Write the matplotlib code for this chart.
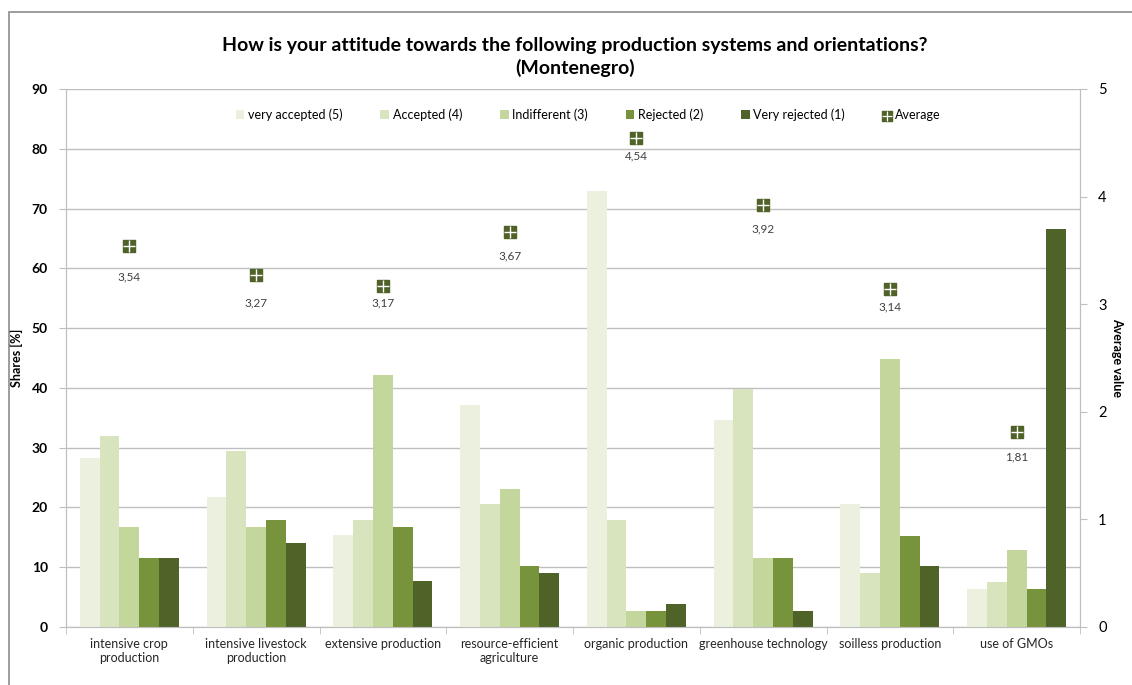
import numpy as np
import matplotlib.pyplot as plt
from matplotlib.patches import Rectangle

plt.rcParams['font.family'] = ['Lato', 'DejaVu Sans']

categories = ['intensive crop\nproduction', 'intensive livestock\nproduction', 'extensive production',
              'resource-efficient\nagriculture', 'organic production', 'greenhouse technology',
              'soilless production', 'use of GMOs']
series_names = ['very accepted (5)', 'Accepted (4)', 'Indifferent (3)', 'Rejected (2)', 'Very rejected (1)']
very_accepted = [28.2, 21.8, 15.4, 37.1, 73.0, 34.7, 20.6, 6.4]
accepted = [32.0, 29.4, 17.9, 20.6, 17.9, 39.8, 9.0, 7.6]
indifferent = [16.7, 16.7, 42.2, 23.1, 2.6, 11.5, 44.8, 12.8]
rejected = [11.5, 17.9, 16.7, 10.2, 2.6, 11.5, 15.3, 6.4]
very_rejected = [11.5, 14.0, 7.7, 9.0, 3.85, 2.6, 10.2, 66.5]
average = [3.54, 3.27, 3.17, 3.67, 4.54, 3.92, 3.14, 1.81]

# how far each average label sits below its marker (pixels)
label_drop = [31, 28, 17, 24, 17, 24, 18, 25]

colors = ['#EBF1DE', '#D7E4BD', '#C3D69B', '#77933C', '#4F6228']
grid_c = '#BFBFBF'

fig = plt.figure(figsize=(11.32, 6.85), dpi=100)
ax = fig.add_axes([66/1132, 1-627/685, 1014/1132, 538/685])
ax2 = ax.twinx()

x = np.arange(len(categories))
w = 0.156
all_series = [very_accepted, accepted, indifferent, rejected, very_rejected]
handles = []
for i, vals in enumerate(all_series):
    b = ax.bar(x + (i - 2) * w, vals, w, color=colors[i], label=series_names[i], zorder=3)
    handles.append(b)

ax.set_ylim(0, 90)
ax.set_xlim(-0.5, len(categories) - 0.5)
ax.set_yticks(range(0, 91, 10))
ax.yaxis.grid(True, color=grid_c, lw=1, zorder=0)
ax.set_axisbelow(True)
ax.set_xticks(x)
ax.set_xticklabels(categories, fontsize=9, color='#262626')
ax.tick_params(axis='x', length=0, pad=8)
ax.set_xticks(np.arange(-0.5, len(categories), 1), minor=True)
ax.tick_params(axis='x', which='minor', length=5, color=grid_c)
ax.tick_params(axis='y', length=5, color=grid_c, labelsize=10, pad=8)
for lab in ax.get_yticklabels():
    lab.set_fontweight('bold')
ax.set_ylabel('Shares [%]', fontsize=9, fontweight='bold', labelpad=6)
ax.spines['top'].set_visible(False)
ax2.spines['top'].set_visible(False)
for s in ['left', 'bottom', 'right']:
    ax.spines[s].set_color(grid_c)
    ax2.spines[s].set_color(grid_c)

ax2.set_ylim(0, 5)
ax2.set_yticks(range(0, 6))
ax2.tick_params(axis='y', length=5, color=grid_c, labelsize=10.5, pad=8)
ax2.scatter(x, average, marker='s', s=85, color='#4F6228', zorder=5)
ax2.scatter(x, average, marker='+', s=75, color='white', linewidths=1.0, zorder=6)
for xi, v, d in zip(x, average, label_drop):
    ax2.annotate(f'{v:.2f}'.replace('.', ','), (xi, v), xytext=(0, -d * 0.72), textcoords='offset points',
                 ha='center', va='center', fontsize=8.5, color='#404040')
ax2.set_ylabel('Average value', fontsize=9, fontweight='bold', rotation=-90, labelpad=12)

sq = ax2.scatter([], [], marker='s', s=50, color='#4F6228')
pl = ax2.scatter([], [], marker='+', s=45, color='white', linewidths=0.9)
ax.legend(handles + [(sq, pl)], series_names + ['Average'], loc='upper center',
          bbox_to_anchor=(0.515, 0.985), ncol=6, frameon=False, fontsize=9,
          handlelength=0.7, handleheight=0.7, handletextpad=0.3, columnspacing=3.0)

fig.text(0.508, 1 - 45/685, 'How is your attitude towards the following production systems and orientations?',
         ha='center', va='center', fontsize=14, fontweight='bold')
fig.text(0.508, 1 - 68/685, '(Montenegro)', ha='center', va='center', fontsize=14, fontweight='bold')

fig.patches.append(Rectangle((9/1132, -0.1), 1.2, 1 - 12/685 + 0.1, transform=fig.transFigure,
                             fill=False, edgecolor='#8C8C8C', lw=1.2))

fig.savefig('out.png', dpi=100)
